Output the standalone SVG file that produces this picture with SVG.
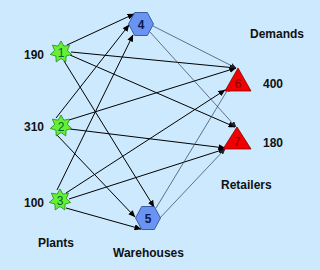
<svg xmlns="http://www.w3.org/2000/svg" xmlns:xlink="http://www.w3.org/1999/xlink" width="320" height="270" viewBox="0 0 320 270">
<style>
.lbl{font-family:"Liberation Sans",Arial,sans-serif;font-size:12px;font-weight:bold;fill:#111;}
.e{stroke:#000;stroke-width:1;fill:none;marker-end:url(#ah);}
.t{stroke:#2c3c5c;stroke-width:0.7;fill:none;marker-end:url(#ah2);}
.star{fill:#66f033;stroke:#1a8a1a;stroke-width:0.8;}
.hex{fill:#6a94f2;stroke:#27408b;stroke-width:0.8;}
.tri{fill:#f00000;stroke:#880000;stroke-width:0.8;}
.nt{font-family:"Liberation Sans",Arial,sans-serif;font-size:12px;text-anchor:middle;}
</style>
<defs>
<marker id="ah" markerWidth="7" markerHeight="6" refX="6.5" refY="3" orient="auto" markerUnits="userSpaceOnUse"><path d="M0,0 L7,3 L0,6 z" fill="#000"/></marker>
<marker id="ah2" markerWidth="6" markerHeight="5" refX="5.5" refY="2.5" orient="auto" markerUnits="userSpaceOnUse"><path d="M0,0 L6,2.5 L0,5 z" fill="#223"/></marker>
<polygon id="st" class="star" points="0,-11 2.82,-5.86 8.6,-6.86 6.34,-1.45 10.72,2.45 5.08,4.05 4.77,9.91 0,6.5 -4.77,9.91 -5.08,4.05 -10.72,2.45 -6.34,-1.45 -8.6,-6.86 -2.82,-5.86"/>
<polygon id="hx" class="hex" points="-12.5,0 -6.3,-11.5 6.3,-11.5 12.5,0 6.3,11.5 -6.3,11.5"/>
</defs>
<rect width="320" height="270" fill="#cce9fd"/>
<g id="connectors">
<line class="e" x1="67" y1="45" x2="134" y2="14"/>
<line class="e" x1="71" y1="52" x2="236" y2="68"/>
<line class="e" x1="70" y1="55" x2="235" y2="127"/>
<line class="e" x1="64" y1="61" x2="154" y2="207"/>
<line class="e" x1="56" y1="118" x2="129" y2="25"/>
<line class="e" x1="69" y1="120" x2="236" y2="68"/>
<line class="e" x1="70" y1="129" x2="225" y2="148"/>
<line class="e" x1="56" y1="134" x2="135" y2="217"/>
<line class="e" x1="57" y1="190" x2="133" y2="35"/>
<line class="e" x1="66" y1="193" x2="225" y2="90"/>
<line class="e" x1="69" y1="199" x2="225" y2="149"/>
<line class="e" x1="66" y1="208" x2="141" y2="229"/>
<line class="t" x1="153" y1="26" x2="236" y2="68"/>
<line class="t" x1="150" y1="32" x2="236" y2="127"/>
<line class="t" x1="156" y1="208" x2="230" y2="86"/>
<line class="t" x1="159" y1="219" x2="225" y2="149"/>
</g>
<g id="n1"><use xlink:href="#st" href="#st" x="61" y="52"/><text class="nt" x="61" y="57" fill="#063">1</text></g>
<g id="n2"><use xlink:href="#st" href="#st" x="61" y="126"/><text class="nt" x="61" y="131" fill="#063">2</text></g>
<g id="n3"><use xlink:href="#st" href="#st" x="60" y="200"/><text class="nt" x="60" y="205" fill="#063">3</text></g>
<g id="n4"><use xlink:href="#hx" href="#hx" x="141" y="24"/><text class="nt" x="141" y="29" fill="#0a1a50" font-weight="bold" font-size="13">4</text></g>
<g id="n5"><use xlink:href="#hx" href="#hx" x="148" y="218"/><text class="nt" x="148" y="223" fill="#0a1a50" font-weight="bold" font-size="13">5</text></g>
<g id="n6"><polygon class="tri" points="238,68 251,91 225,91"/><text class="nt" x="238" y="88" fill="#8a0000" font-size="11">6</text></g>
<g id="n7"><polygon class="tri" points="237,127 251,149 223,149"/><text class="nt" x="237" y="146" fill="#8a0000" font-size="11">7</text></g>
<g id="labels">
<text class="lbl" x="24" y="59">190</text>
<text class="lbl" x="24" y="131">310</text>
<text class="lbl" x="24" y="207">100</text>
<text class="lbl" x="263" y="88">400</text>
<text class="lbl" x="263" y="147">180</text>
<text class="lbl" x="250" y="38">Demands</text>
<text class="lbl" x="221" y="189">Retailers</text>
<text class="lbl" x="38" y="247">Plants</text>
<text class="lbl" x="113" y="257">Warehouses</text>
</g>
</svg>
